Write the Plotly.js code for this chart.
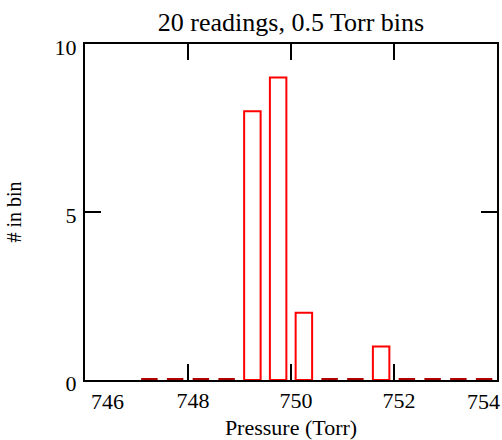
<!DOCTYPE html>
<html>
<head>
<meta charset="utf-8">
<script src="https://cdn.plot.ly/plotly-3.0.1.min.js"></script>
<style>html,body{margin:0;padding:0;background:#fff}#chart{width:502px;height:440px}</style>
</head>
<body>
<div id="chart"></div>
<script>
// Data
var binCenters = [747.25, 747.75, 748.25, 748.75, 749.25, 749.75, 750.25, 750.75, 751.25, 751.75, 752.25, 752.75, 753.25, 753.75];
var counts     = [0, 0, 0, 0, 8, 9, 2, 0, 0, 1, 0, 0, 0, 0];
var xTickVals  = [746, 748, 750, 752, 754];
var xTickText  = ['746', '748', '750', '752', '754'];
var yTickVals  = [0, 5, 10];
var yTickText  = ['0', '5', '10'];

var barWidth = 0.32;

var barX = [], barY = [];
var zx = [], zy = [];
for (var i = 0; i < binCenters.length; i++) {
  if (counts[i] > 0) { barX.push(binCenters[i]); barY.push(counts[i]); }
  else {
    zx.push(binCenters[i] - barWidth / 2, binCenters[i] + barWidth / 2, null);
    zy.push(counts[i], counts[i], null);
  }
}

var font = { family: '"Liberation Serif", "Times New Roman", serif', color: '#000' };
var tickFont = { family: font.family, size: 22, color: '#000' };

// End tick labels are drawn kept inside the frame (as in the reference)
var last = xTickText.length - 1;
var tickText = xTickText.map(function (t, k) { return (k === 0 || k === last) ? '' : t; });
var endAnnotations = [
  { x: xTickVals[0], xref: 'x', y: 0, yref: 'paper', text: xTickText[0], showarrow: false,
    xanchor: 'left', yanchor: 'middle', xshift: 4, yshift: -21, font: tickFont },
  { x: xTickVals[last], xref: 'x', y: 0, yref: 'paper', text: xTickText[last], showarrow: false,
    xanchor: 'right', yanchor: 'middle', xshift: 5, yshift: -21, font: tickFont }
];

var traces = [
  { type: 'scatter', mode: 'lines', x: zx, y: zy, line: { color: '#b00000', width: 4 }, hoverinfo: 'skip', cliponaxis: false },
  { type: 'bar', x: barX, y: barY, width: barWidth,
    marker: { color: 'rgba(255,255,255,0)', line: { color: '#ff0000', width: 2 } } }
];

var layout = {
  width: 502, height: 440,
  margin: { l: 85, r: 5, t: 44, b: 60 },
  paper_bgcolor: '#fff', plot_bgcolor: '#fff',
  showlegend: false,
  font: font,
  annotations: endAnnotations,
  title: { text: '20 readings, 0.5 Torr bins', font: { family: font.family, size: 26, color: '#000' },
           x: 0.5, xref: 'paper', y: 0.95, yref: 'container', yanchor: 'middle' },
  xaxis: {
    range: [746, 754], tickmode: 'array', tickvals: xTickVals, ticktext: tickText,
    ticks: 'inside', ticklen: 16, tickwidth: 2, tickcolor: '#000',
    showline: true, linecolor: '#000', linewidth: 2, mirror: 'allticks',
    showgrid: false, zeroline: false, ticklabelshift: 5,
    tickfont: tickFont,
    title: { text: 'Pressure (Torr)', font: { family: font.family, size: 22, color: '#000' }, standoff: 15 },
    automargin: false, layer: 'above traces'
  },
  yaxis: {
    range: [0, 10], tickmode: 'array', tickvals: yTickVals, ticktext: yTickText,
    ticks: 'inside', ticklen: 16, tickwidth: 2, tickcolor: '#000',
    showline: true, linecolor: '#000', linewidth: 2, mirror: 'allticks',
    showgrid: false, zeroline: false, ticklabelstandoff: 2, ticklabelshift: 3,
    tickfont: tickFont,
    title: { text: '# in bin', font: { family: font.family, size: 20, color: '#000' }, standoff: 28 },
    automargin: false, layer: 'above traces'
  }
};

Plotly.newPlot('chart', traces, layout, { displayModeBar: false, staticPlot: true });
</script>
</body>
</html>
